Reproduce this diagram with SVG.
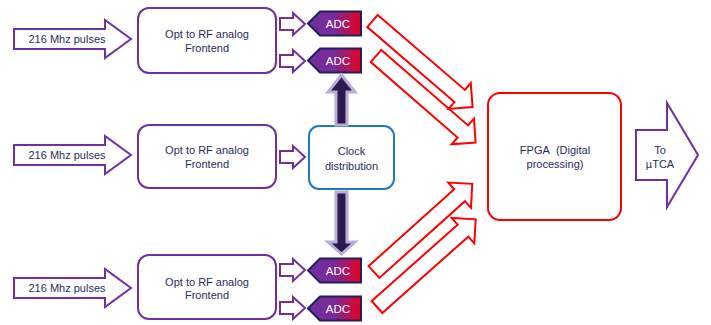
<svg xmlns="http://www.w3.org/2000/svg" width="711" height="325" viewBox="0 0 711 325">
  <defs>
    <linearGradient id="adcFill" x1="0" y1="0" x2="1" y2="0">
      <stop offset="0" stop-color="#7030a0"/>
      <stop offset="0.5" stop-color="#7a2a98"/>
      <stop offset="1" stop-color="#e8001c"/>
    </linearGradient>
    <!-- white block arrow pointing right, 25 px long -->
    <polygon id="smallArrow" points="0,-6 13,-6 13,-11 25,0 13,11 13,6 0,6"/>
    <!-- thick red data arrow, tail at origin, tip at (132,0) -->
    <polygon id="dataArrow" points="0,-8 115,-8 115,-17 132,0 115,17 115,8 0,8"/>
    <!-- ADC pentagon, left point at origin -->
    <g id="adc">
      <polygon points="0,0 12,-12 53,-12 53,12 12,12" fill="url(#adcFill)" stroke="#1f1f60" stroke-width="2"/>
      <text x="30" y="4" class="adcText">ADC</text>
    </g>
  </defs>
  <style>
    text { font-family: "Liberation Sans", Arial, sans-serif; font-size: 11px; fill: #1f2d5c; text-anchor: middle; }
    .adcText { fill: #ffffff; font-size: 11.5px; }
    .purple { fill: #ffffff; stroke: #7030a0; stroke-width: 2; }
    .red { fill: #ffffff; stroke: #ff0000; stroke-width: 2; }
    .clockArrow { fill: #2b1a4d; stroke: #b8acd8; stroke-width: 3; }
  </style>
  <rect width="711" height="325" fill="#ffffff"/>

  <!-- input pulse arrows -->
  <g id="input1">
    <polygon class="purple" points="14,29 105,29 105,20 131,39 105,58 105,49 14,49"/>
    <text x="67" y="43">216 Mhz pulses</text>
  </g>
  <g id="input2">
    <polygon class="purple" points="14,145 105,145 105,136 131,155 105,174 105,165 14,165"/>
    <text x="67" y="159">216 Mhz pulses</text>
  </g>
  <g id="input3">
    <polygon class="purple" points="14,278 105,278 105,269 131,288 105,307 105,298 14,298"/>
    <text x="67" y="292">216 Mhz pulses</text>
  </g>

  <!-- analog frontends -->
  <g id="frontend1">
    <rect class="purple" x="138" y="8" width="138" height="65" rx="11"/>
    <text x="207" y="38">Opt to RF analog</text>
    <text x="207" y="52">Frontend</text>
  </g>
  <g id="frontend2">
    <rect class="purple" x="138" y="125" width="138" height="63" rx="11"/>
    <text x="207" y="154">Opt to RF analog</text>
    <text x="207" y="168">Frontend</text>
  </g>
  <g id="frontend3">
    <rect class="purple" x="138" y="255" width="138" height="64" rx="11"/>
    <text x="207" y="286">Opt to RF analog</text>
    <text x="207" y="299">Frontend</text>
  </g>

  <!-- clock distribution -->
  <g id="clock">
    <rect x="309" y="126" width="85" height="63" rx="10" fill="#ffffff" stroke="#1f78c0" stroke-width="2"/>
    <text x="351.5" y="155">Clock</text>
    <text x="351.5" y="170">distribution</text>
  </g>

  <!-- ADCs -->
  <g id="adc1"><use href="#adc" x="308" y="23.5"/></g>
  <g id="adc2"><use href="#adc" x="308" y="60.5"/></g>
  <g id="adc3"><use href="#adc" x="308" y="270.5"/></g>
  <g id="adc4"><use href="#adc" x="308" y="308.5"/></g>

  <!-- FPGA -->
  <g id="fpga">
    <rect x="488" y="93" width="133" height="127" rx="12" fill="#ffffff" stroke="#ff0000" stroke-width="2"/>
    <text x="555" y="154">FPGA&#160; (Digital</text>
    <text x="555" y="168">processing)</text>
  </g>

  <!-- output to uTCA -->
  <g id="output">
    <polygon class="purple" points="636,130 667,130 667,103 698,155 667,207 667,180 636,180"/>
    <text x="660" y="154">To</text>
    <text x="660" y="168">µTCA</text>
  </g>

  <g id="connectors">
    <!-- frontend to ADC -->
    <use href="#smallArrow" class="purple" x="280" y="24"/>
    <use href="#smallArrow" class="purple" x="280" y="61"/>
    <use href="#smallArrow" class="purple" x="280" y="157"/>
    <use href="#smallArrow" class="purple" x="280" y="270"/>
    <use href="#smallArrow" class="purple" x="280" y="308"/>

    <!-- clock to ADCs -->
    <polygon class="clockArrow" points="336,125 336,92 328,92 341.5,75 355,92 347,92 347,125"/>
    <polygon class="clockArrow" points="336,192 336,242 328,242 341.5,254 355,242 347,242 347,192"/>

    <!-- ADC data into FPGA -->
    <use href="#dataArrow" class="red" transform="translate(376,56) rotate(41)"/>
    <use href="#dataArrow" class="red" transform="translate(372.5,21) rotate(40.7)"/>
    <use href="#dataArrow" class="red" transform="translate(374,272) rotate(-41.9)"/>
    <use href="#dataArrow" class="red" transform="translate(377,307) rotate(-41.6)"/>
  </g>
</svg>
